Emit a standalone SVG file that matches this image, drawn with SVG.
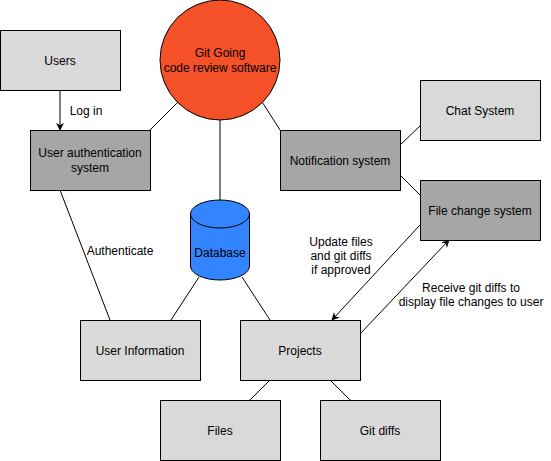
<svg xmlns="http://www.w3.org/2000/svg" width="551" height="461" viewBox="0 0 551 461">
<defs>
<style>
.light{fill:#D9D9D9;stroke:#000;stroke-width:1}
.dark{fill:#A6A6A6;stroke:#000;stroke-width:1}
.t{font-family:"Liberation Sans",Arial,sans-serif;font-size:12px;fill:#000;text-anchor:middle}
.c{stroke:#000;stroke-width:1;fill:none}
</style>
<marker id="ah" viewBox="0 0 10 10" refX="9" refY="5" markerWidth="8" markerHeight="8" orient="auto" markerUnits="userSpaceOnUse">
<path d="M0,0 L10,5 L0,10 L3,5 Z" fill="#000"/>
</marker>
</defs>
<rect width="551" height="461" fill="#fff"/>
<g id="connectors">
<line class="c" x1="60" y1="90" x2="60" y2="130" marker-end="url(#ah)"/>
<line class="c" x1="150" y1="130" x2="177.6" y2="102.4"/>
<line class="c" x1="262.4" y1="102.4" x2="280" y2="130"/>
<line class="c" x1="220" y1="120" x2="220" y2="200"/>
<line class="c" x1="400" y1="145" x2="420" y2="126"/>
<line class="c" x1="400" y1="175" x2="420" y2="195"/>
<line class="c" x1="60" y1="190" x2="110" y2="320"/>
<line class="c" x1="199" y1="277" x2="171" y2="320"/>
<line class="c" x1="242" y1="277" x2="270" y2="320"/>
<line class="c" x1="270" y1="380" x2="250" y2="400"/>
<line class="c" x1="330" y1="380" x2="350" y2="400"/>
<line class="c" x1="420" y1="225" x2="332" y2="320" marker-end="url(#ah)"/>
<line class="c" x1="360" y1="334" x2="449" y2="240" marker-end="url(#ah)"/>
<text class="t" x="86" y="115" style="text-anchor:middle">Log in</text>
<text class="t" x="120" y="255">Authenticate</text>
<text class="t" x="341" y="246">Update files</text>
<text class="t" x="341" y="260">and git diffs</text>
<text class="t" x="341" y="274">if approved</text>
<text class="t" x="471" y="292">Receive git diffs to</text>
<text class="t" x="471" y="306">display file changes to user</text>
</g>
<g id="users"><rect class="light" x="0.5" y="30.5" width="120" height="60"/><text class="t" x="60" y="65">Users</text></g>
<g id="git-going"><circle cx="220" cy="60" r="60" fill="#F45128" stroke="#000"/><text class="t" x="220" y="57">Git Going</text><text class="t" x="220" y="72">code review software</text></g>
<g id="user-auth"><rect class="dark" x="30.5" y="130.5" width="120" height="60"/><text class="t" x="90" y="157">User authentication</text><text class="t" x="90" y="172">system</text></g>
<g id="notification"><rect class="dark" x="280.5" y="130.5" width="120" height="60"/><text class="t" x="340" y="165">Notification system</text></g>
<g id="chat"><rect class="light" x="420.5" y="80.5" width="120" height="60"/><text class="t" x="480" y="115">Chat System</text></g>
<g id="file-change"><rect class="dark" x="420.5" y="180.5" width="120" height="60"/><text class="t" x="480" y="215">File change system</text></g>
<g id="database"><path d="M190.5,214 L190.5,266 A29.5,14 0 0 0 249.5,266 L249.5,214" fill="#3385FF" stroke="#000"/><ellipse cx="220" cy="214" rx="29.5" ry="14" fill="#3385FF" stroke="#000"/><text class="t" x="220" y="257">Database</text></g>
<g id="user-info"><rect class="light" x="80.5" y="320.5" width="120" height="60"/><text class="t" x="140" y="355">User Information</text></g>
<g id="projects"><rect class="light" x="240.5" y="320.5" width="120" height="60"/><text class="t" x="300" y="355">Projects</text></g>
<g id="files"><rect class="light" x="160.5" y="400.5" width="120" height="60"/><text class="t" x="220" y="435">Files</text></g>
<g id="git-diffs"><rect class="light" x="320.5" y="400.5" width="120" height="60"/><text class="t" x="380" y="435">Git diffs</text></g>
</svg>
